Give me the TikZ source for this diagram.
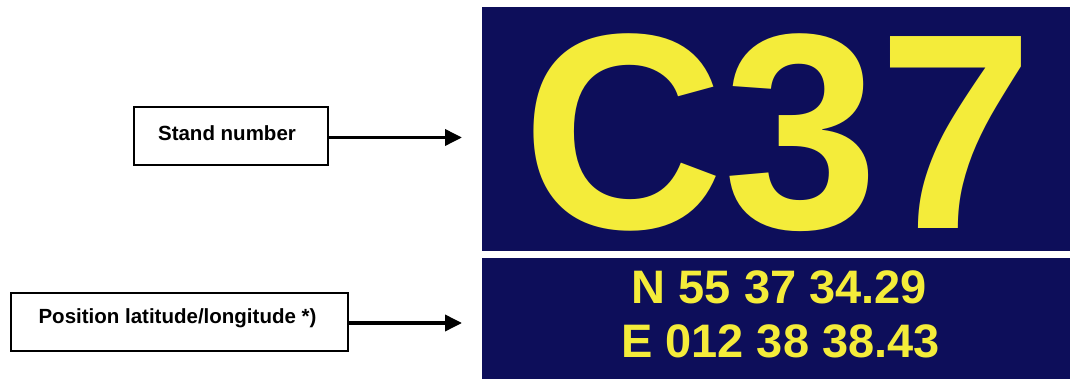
\documentclass[tikz,border=0pt]{standalone}
\usepackage{fontspec}
\setmainfont{Liberation Sans}
\usetikzlibrary{arrows.meta}
\definecolor{navy}{RGB}{13,14,90}
\definecolor{signyellow}{RGB}{244,236,58}
\tikzset{
  labelbox/.style={draw=black, line width=1.6pt, fill=white, inner sep=0pt},
  labeltext/.style={inner sep=0pt, font=\bfseries\fontsize{20.5}{24}\selectfont},
  pointer/.style={line width=3.6pt, -{Triangle[length=17pt,width=16pt]}},
  panel/.style={fill=navy, draw=none},
  bigtext/.style={text=signyellow, inner sep=0pt, anchor=base, font=\bfseries\fontsize{279}{279}\selectfont},
  coordtext/.style={text=signyellow, inner sep=0pt, anchor=base, font=\bfseries\fontsize{47}{50}\selectfont}
}
\begin{document}
\begin{tikzpicture}[x=1pt,y=-1pt]
\useasboundingbox (0,0) rectangle (1077,379);
% sign panels
\path[panel] (482,7) rectangle (1070,251);
\path[panel] (482,258) rectangle (1070,379);
\node[bigtext] (num) at (778,229) {C37};
\node[coordtext] (lat) at (779.5,304) {N 55 37 34.29};
\node[coordtext] (lon) at (780.5,358) {E 012 38 38.43};
% label boxes
\node[labelbox, minimum width=194pt, minimum height=58pt] (stand) at (231,136) {};
\node[labeltext] (standtxt) at (227,133) {Stand number};
\node[labelbox, minimum width=337pt, minimum height=58pt] (pos) at (179.5,322) {};
\node[labeltext] (postxt) at (177.5,318) {Position latitude/longitude *)};
% arrow tips
\coordinate (tip1) at (462,137.5);
\coordinate (tip2) at (462,323);
\draw[pointer] (stand.east |- tip1) -- (tip1);
\draw[pointer] (pos.east |- tip2) -- (tip2);
\end{tikzpicture}
\end{document}
